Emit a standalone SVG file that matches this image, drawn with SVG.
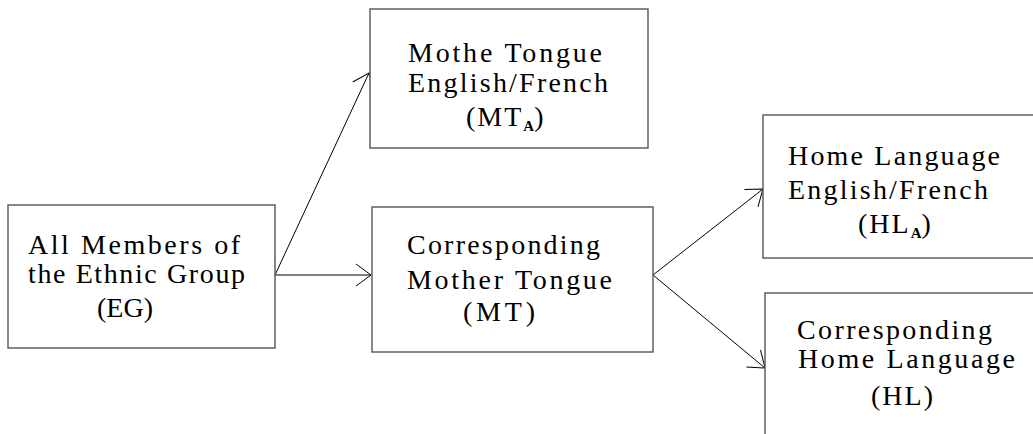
<svg xmlns="http://www.w3.org/2000/svg" width="1033" height="434" viewBox="0 0 1033 434">
  <style>
    .box { fill: #ffffff; stroke: #555555; stroke-width: 1.4; }
    .lbl { font-family: "Liberation Serif", "Times New Roman", serif; font-size: 28px; fill: #000000; }
    .sub { font-size: 15px; font-weight: bold; }
    .edge { stroke: #000000; stroke-width: 1; fill: none; marker-end: url(#open); }
  </style>
  <defs>
    <marker id="open" markerUnits="userSpaceOnUse" markerWidth="20" markerHeight="24" refX="16" refY="11" orient="auto" overflow="visible">
      <path d="M1,0 L16,11 L1,22" fill="none" stroke="#000000" stroke-width="1"/>
    </marker>
  </defs>
  <rect width="1033" height="434" fill="#ffffff"/>

  <g id="connectors">
    <line class="edge" x1="275" y1="275" x2="369" y2="73"/>
    <line class="edge" x1="275" y1="275" x2="371" y2="275"/>
    <line class="edge" x1="653" y1="275" x2="763" y2="189"/>
    <line class="edge" x1="653" y1="275" x2="765" y2="368"/>
  </g>

  <g id="node-eg">
    <rect class="box" x="8" y="205" width="267" height="143"/>
    <text class="lbl" x="28" y="254" textLength="212" lengthAdjust="spacing">All Members of</text>
    <text class="lbl" x="28" y="283" textLength="217" lengthAdjust="spacing">the Ethnic Group</text>
    <text class="lbl" x="97" y="317" textLength="56" lengthAdjust="spacing">(EG)</text>
  </g>

  <g id="node-mta">
    <rect class="box" x="370" y="9" width="278" height="139"/>
    <text class="lbl" x="408" y="62" textLength="194" lengthAdjust="spacing">Mothe Tongue</text>
    <text class="lbl" x="408" y="92" textLength="200" lengthAdjust="spacing">English/French</text>
    <text class="lbl" x="466" y="126" letter-spacing="2">(MT<tspan class="sub" dy="5" letter-spacing="0">A</tspan><tspan dy="-5">)</tspan></text>
  </g>

  <g id="node-mt">
    <rect class="box" x="372" y="207" width="281" height="145"/>
    <text class="lbl" x="407" y="254" textLength="193" lengthAdjust="spacing">Corresponding</text>
    <text class="lbl" x="407" y="289" textLength="205" lengthAdjust="spacing">Mother Tongue</text>
    <text class="lbl" x="463" y="321" textLength="72" lengthAdjust="spacing">(MT)</text>
  </g>

  <g id="node-hla">
    <rect class="box" x="763" y="115" width="280" height="143"/>
    <text class="lbl" x="788" y="165" textLength="212" lengthAdjust="spacing">Home Language</text>
    <text class="lbl" x="788" y="199" textLength="200" lengthAdjust="spacing">English/French</text>
    <text class="lbl" x="858" y="233" letter-spacing="2">(HL<tspan class="sub" dy="5" letter-spacing="0">A</tspan><tspan dy="-5">)</tspan></text>
  </g>

  <g id="node-hl">
    <rect class="box" x="765" y="293" width="280" height="150"/>
    <text class="lbl" x="797" y="339" textLength="195" lengthAdjust="spacing">Corresponding</text>
    <text class="lbl" x="798" y="368" textLength="217" lengthAdjust="spacing">Home Language</text>
    <text class="lbl" x="871" y="405" textLength="62" lengthAdjust="spacing">(HL)</text>
  </g>
</svg>
